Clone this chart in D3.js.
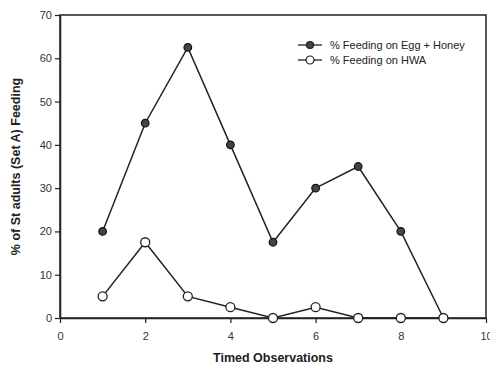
<!DOCTYPE html>
<html>
<head>
<meta charset="utf-8">
<script src="https://cdn.jsdelivr.net/npm/d3@7"></script>
<style>
  body { margin: 0; background: #fff; }
  text { font-family: "Liberation Sans", Arial, sans-serif; }
</style>
</head>
<body>
<div id="chart"></div>
<script>
// observations on the x axis
var observations = [1, 2, 3, 4, 5, 6, 7, 8, 9];
// % feeding values
var eggHoney = [20, 45, 62.5, 40, 17.5, 30, 35, 20, 0];
var hwa = [5, 17.5, 5, 2.5, 0, 2.5, 0, 0, 0];
var xTicks = [0, 2, 4, 6, 8, 10];
var yTicks = [0, 10, 20, 30, 40, 50, 60, 70];
var seriesNames = ["% Feeding on Egg + Honey", "% Feeding on HWA"];

var svgWidth = 490, svgHeight = 373;
var margin = { top: 15, right: 4, bottom: 55, left: 60 };
var width = svgWidth - margin.left - margin.right;
var height = svgHeight - margin.top - margin.bottom;

var svg = d3.select("#chart").append("svg")
    .attr("width", svgWidth)
    .attr("height", svgHeight)
  .append("g")
    .attr("transform", `translate(${margin.left},${margin.top})`);

var xScale = d3.scaleLinear().domain([0, 10]).range([0, width]);
var yScale = d3.scaleLinear().domain([0, 70]).range([height, 0]);

// box round the plot
svg.append("rect")
    .attr("width", width).attr("height", height)
    .attr("fill", "none").attr("stroke", "#222").attr("stroke-width", 1.5);

var xAxis = svg.append("g")
    .attr("transform", `translate(0,${height})`)
    .call(d3.axisBottom(xScale).tickValues(xTicks).tickSize(5).tickSizeOuter(0));
var yAxis = svg.append("g")
    .call(d3.axisLeft(yScale).tickValues(yTicks).tickSize(5).tickSizeOuter(0));

[xAxis, yAxis].forEach(function(a) {
  a.select(".domain").attr("stroke", "#222").attr("stroke-width", 1.5);
  a.selectAll(".tick line").attr("stroke", "#222").attr("stroke-width", 1.2);
  a.selectAll(".tick text").attr("font-size", 11).attr("fill", "#333");
});
xAxis.selectAll(".tick text").attr("dy", "1.3em");

var line = d3.line()
    .x((d, i) => xScale(observations[i]))
    .y(d => yScale(d));

svg.append("path").datum(eggHoney)
    .attr("d", line).attr("fill", "none").attr("stroke", "#222").attr("stroke-width", 1.5);
svg.append("path").datum(hwa)
    .attr("d", line).attr("fill", "none").attr("stroke", "#222").attr("stroke-width", 1.5);

svg.selectAll(".egg").data(eggHoney).enter().append("circle")
    .attr("class", "egg")
    .attr("cx", (d, i) => xScale(observations[i]))
    .attr("cy", d => yScale(d))
    .attr("r", 3.8)
    .attr("fill", "#444").attr("stroke", "#111").attr("stroke-width", 1.2);

// open markers drawn last, they cover the shared zero point
svg.selectAll(".hwa").data(hwa).enter().append("circle")
    .attr("class", "hwa")
    .attr("cx", (d, i) => xScale(observations[i]))
    .attr("cy", d => yScale(d))
    .attr("r", 4.5)
    .attr("fill", "#fff").attr("stroke", "#222").attr("stroke-width", 1.3);

// legend
var legend = svg.append("g").attr("transform", "translate(238,30)");
seriesNames.forEach(function(name, i) {
  var g = legend.append("g").attr("transform", `translate(0,${i * 15})`);
  g.append("line").attr("x1", 0).attr("x2", 24).attr("y1", 0).attr("y2", 0)
      .attr("stroke", "#222").attr("stroke-width", 1.3);
  g.append("circle").attr("cx", 12).attr("cy", 0)
      .attr("r", i === 0 ? 3.5 : 4)
      .attr("fill", i === 0 ? "#444" : "#fff")
      .attr("stroke", "#222").attr("stroke-width", 1.2);
  g.append("text").attr("x", 32).attr("y", 0).attr("dy", "0.35em")
      .attr("font-size", 11).attr("fill", "#222").text(name);
});

// axis titles
svg.append("text")
    .attr("x", width / 2).attr("y", height + 44)
    .attr("text-anchor", "middle")
    .attr("font-size", 12.5).attr("font-weight", "bold").attr("fill", "#222")
    .text("Timed Observations");

svg.append("text")
    .attr("transform", `translate(-40,${height / 2}) rotate(-90)`)
    .attr("text-anchor", "middle")
    .attr("font-size", 12.5).attr("font-weight", "bold").attr("fill", "#222")
    .text("% of St adults (Set A) Feeding");
</script>
</body>
</html>
